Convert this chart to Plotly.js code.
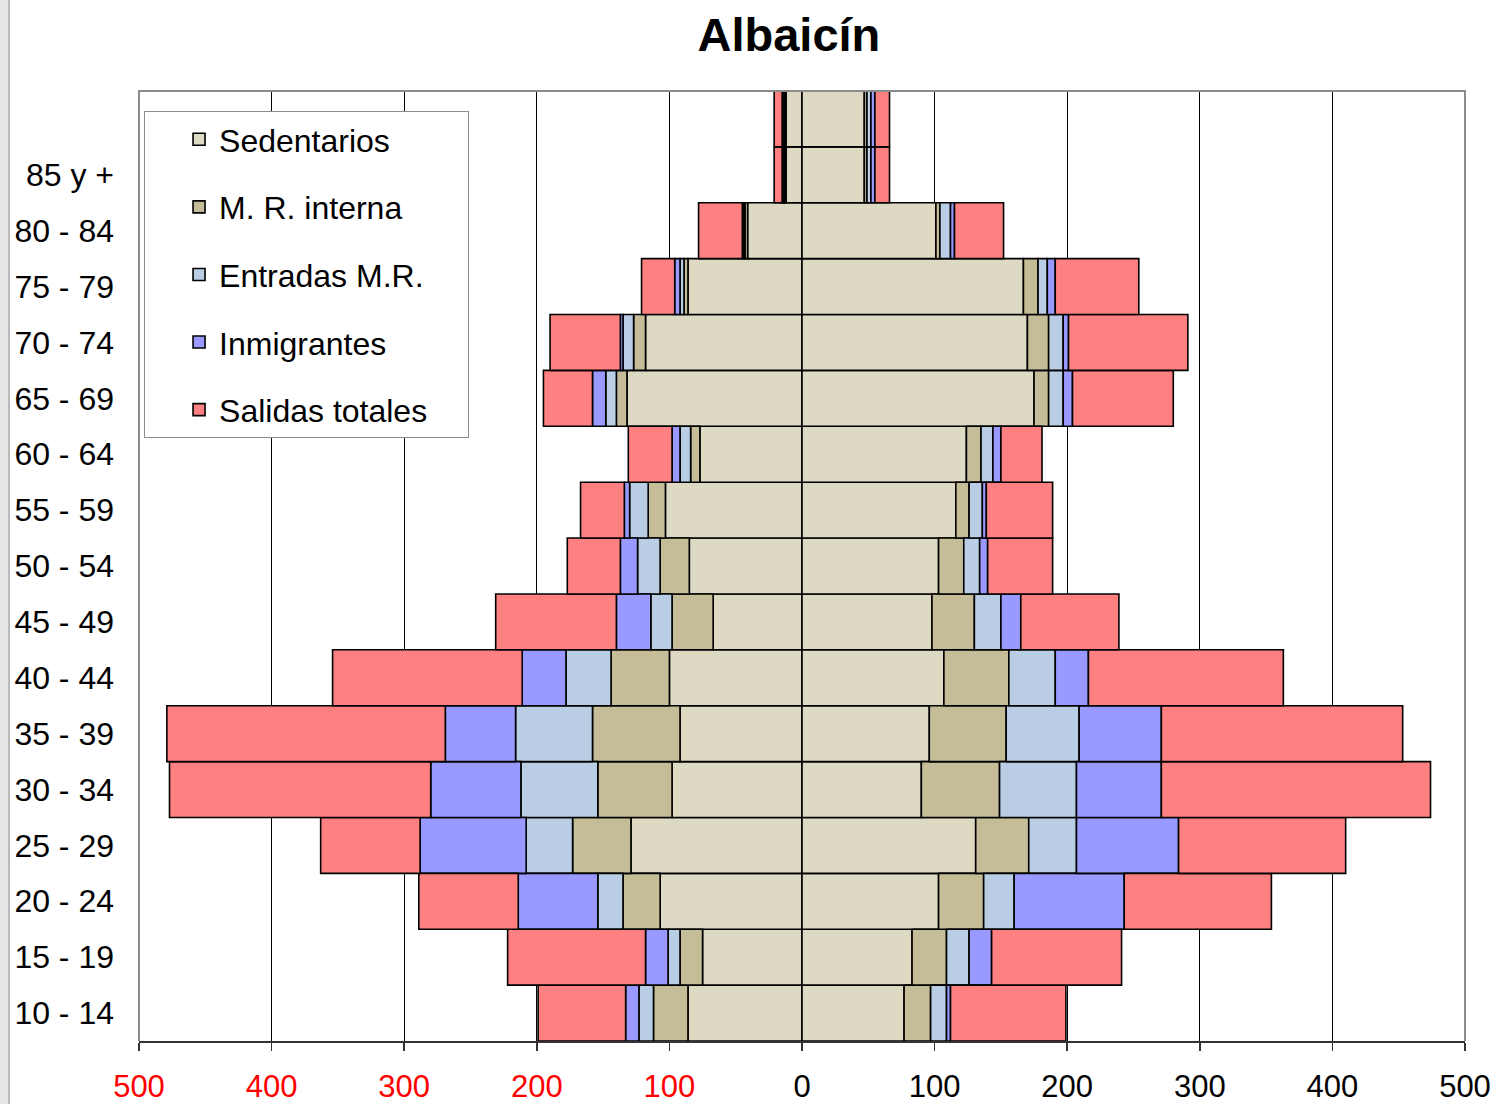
<!DOCTYPE html>
<html>
<head>
<meta charset="utf-8">
<script src="https://cdn.plot.ly/plotly-3.0.1.min.js"></script>
<style>
html,body{margin:0;padding:0;background:#fff;}
#chart{width:1497px;height:1104px;}
</style>
</head>
<body>
<div id="chart"></div>
<script>
// Age groups, bottom to top
const ageGroups = ['10 - 14','15 - 19','20 - 24','25 - 29','30 - 34','35 - 39','40 - 44','45 - 49',
  '50 - 54','55 - 59','60 - 64','65 - 69','70 - 74','75 - 79','80 - 84','85 y +','top'];
const ageLabels = ['10 - 14','15 - 19','20 - 24','25 - 29','30 - 34','35 - 39','40 - 44','45 - 49',
  '50 - 54','55 - 59','60 - 64','65 - 69','70 - 74','75 - 79','80 - 84','85 y +',''];

const seriesNames = ['Sedentarios','M. R. interna','Entradas M.R.','Inmigrantes','Salidas totales'];

// Left side (drawn to the left of 0)
const leftSedentarios = [86, 75, 107, 129, 98, 92, 100, 67, 85, 103, 77, 132, 118, 86, 41, 12, 12];
const leftMRInterna   = [26, 17, 28, 44, 56, 66, 44, 31, 22, 13, 7, 8, 9, 3, 2, 1, 1];
const leftEntradasMR  = [11, 9, 19, 35, 58, 58, 34, 16, 17, 14, 8, 8, 8, 3, 1, 1, 1];
const leftInmigrantes = [10, 17, 60, 80, 68, 53, 33, 26, 13, 4, 6, 10, 2, 4, 1, 1, 1];
const leftSalidas     = [66, 104, 75, 75, 197, 210, 143, 91, 40, 33, 33, 37, 53, 25, 33, 6, 6];

// Right side
const rightSedentarios = [77, 83, 103, 131, 90, 96, 107, 98, 103, 116, 124, 175, 170, 167, 101, 47, 47];
const rightMRInterna   = [20, 26, 34, 40, 59, 58, 49, 32, 19, 10, 11, 11, 16, 11, 3, 2, 2];
const rightEntradasMR  = [12, 17, 23, 36, 58, 55, 35, 20, 12, 10, 9, 11, 11, 7, 8, 3, 3];
const rightInmigrantes = [3, 17, 83, 77, 64, 62, 25, 15, 6, 3, 6, 7, 4, 6, 3, 3, 3];
const rightSalidas     = [87, 98, 111, 126, 203, 182, 147, 74, 49, 50, 31, 76, 90, 63, 37, 11, 11];

const xTickValues = [-500,-400,-300,-200,-100,0,100,200,300,400,500];
const xTickLabels = ['500','400','300','200','100','0','100','200','300','400','500'];

const colors = ['#DDD9C3','#C4BD97','#B9CDE5','#9999FF','#FF8080'];
const leftData = [leftSedentarios, leftMRInterna, leftEntradasMR, leftInmigrantes, leftSalidas];
const rightData = [rightSedentarios, rightMRInterna, rightEntradasMR, rightInmigrantes, rightSalidas];

const FONT = 'Liberation Sans, Arial, Helvetica, sans-serif';
const NBSP4 = '\u00a0\u00a0\u00a0\u00a0';

const traces = [];
seriesNames.forEach((name, i) => {
  // trailing non-breaking spaces on the longest entry only widen the legend box
  const legendName = (i === seriesNames.length - 1) ? name + NBSP4 : name;
  traces.push({
    type: 'bar', orientation: 'h', name: legendName,
    y: ageGroups, x: leftData[i].map(v => -v),
    marker: {color: colors[i], line: {color: '#000', width: 1.6}},
    legendgroup: 'g' + i, showlegend: true, hoverinfo: 'skip'
  });
  traces.push({
    type: 'bar', orientation: 'h', name: name,
    y: ageGroups, x: rightData[i],
    marker: {color: colors[i], line: {color: '#000', width: 1.6}},
    legendgroup: 'g' + i, showlegend: false, hoverinfo: 'skip'
  });
});

const ticktext = xTickLabels.map((t, i) =>
  xTickValues[i] < 0 ? '<span style="color:#FF0000">' + t + '</span>' : t);

const layout = {
  width: 1497, height: 1104,
  paper_bgcolor: '#fff', plot_bgcolor: '#fff',
  margin: {l: 139, r: 32, t: 91, b: 63, pad: 0},
  barmode: 'relative', bargap: 0,
  font: {family: FONT, color: '#000'},
  title: {
    text: '<b>Albaicín</b>',
    font: {family: FONT, size: 47, color: '#000'},
    xref: 'container', x: 0.527, xanchor: 'center',
    yref: 'container', y: 0.969, yanchor: 'middle'
  },
  xaxis: {
    range: [-500, 500], autorange: false, fixedrange: true,
    tickmode: 'array', tickvals: xTickValues, ticktext: ticktext,
    tickfont: {family: FONT, size: 31, color: '#000'},
    ticks: 'outside', ticklen: 8, tickwidth: 1.5, tickcolor: '#333',
    ticklabelstandoff: 9,
    showgrid: true, gridcolor: '#000', gridwidth: 1,
    zeroline: false,
    showline: true, linecolor: '#333', linewidth: 2,
    automargin: false
  },
  yaxis: {
    type: 'category', categoryorder: 'array', categoryarray: ageGroups,
    tickmode: 'array', tickvals: ageGroups, ticktext: ageLabels,
    tickfont: {family: FONT, size: 32, color: '#000'},
    ticks: '', ticklabelstandoff: 24,
    showgrid: false, zeroline: false, showline: false,
    automargin: false, fixedrange: true
  },
  legend: {
    x: 0.0038, y: 0.979, xanchor: 'left', yanchor: 'top',
    bgcolor: '#fff', bordercolor: '#8c8c8c', borderwidth: 1,
    font: {family: FONT, size: 32, color: '#000'},
    traceorder: 'grouped', tracegroupgap: 23,
    indentation: 34,
    itemclick: false, itemdoubleclick: false
  },
  shapes: [
    {type: 'path', xref: 'paper', yref: 'paper', path: 'M0,0 L0,1 L1,1 L1,0',
     line: {color: '#8c8c8c', width: 2}, layer: 'above'},
    {type: 'rect', xref: 'paper', yref: 'paper', x0: -0.105, x1: -0.0985, y0: -0.07, y1: 1.1,
     fillcolor: '#e6e6e6', line: {width: 0}, layer: 'below'},
    {type: 'line', xref: 'paper', yref: 'paper', x0: -0.098, x1: -0.098, y0: -0.07, y1: 1.1,
     line: {color: '#7a7a7a', width: 1}}
  ]
};

Plotly.newPlot('chart', traces, layout, {displayModeBar: false, staticPlot: true});
</script>
</body>
</html>
